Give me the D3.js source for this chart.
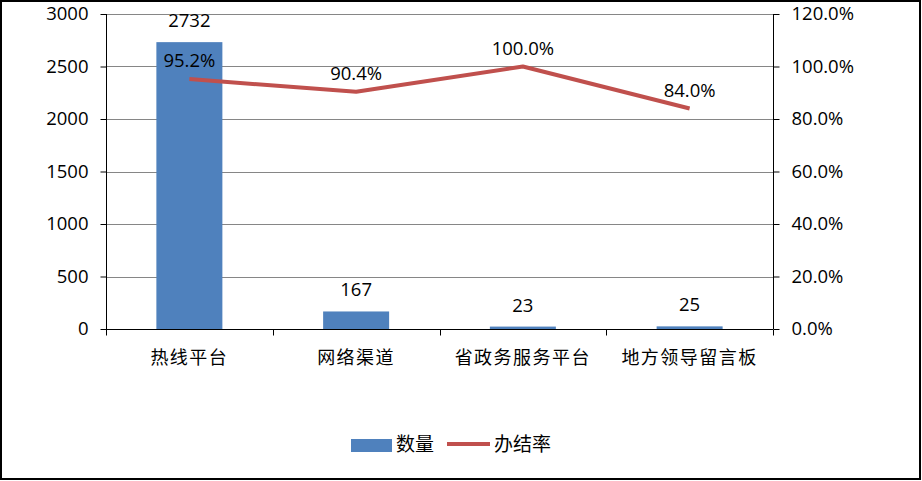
<!DOCTYPE html>
<html><head><meta charset="utf-8">
<script src="https://cdn.jsdelivr.net/npm/d3@7"></script>
<style>body{margin:0;background:#fff}svg text{font-family:"Open Sans","Liberation Sans",sans-serif;fill:#000}</style>
</head><body>
<svg id="c" width="922" height="481"></svg>
<script>
const categories = ["热线平台","网络渠道","省政务服务平台","地方领导留言板"];
const counts = [2732,167,23,25];
const rates = [0.952,0.904,1.0,0.84];
const leftTicks = [0,500,1000,1500,2000,2500,3000];
const rightTicks = [0,0.2,0.4,0.6,0.8,1.0,1.2];
const seriesNames = ["数量","办结率"];

const svg = d3.select("#c");
const L=106, R=773, T=14, B=329;
const x = d3.scaleBand().domain(categories).range([L,R]);
const yL = d3.scaleLinear().domain([0,3000]).range([B,T]);
const yR = d3.scaleLinear().domain([0,1.2]).range([B,T]);
const cjk = '"Noto Sans CJK SC",sans-serif';
const fs = 18.5;

svg.append("rect").attr("x",1).attr("y",1).attr("width",919).attr("height",478)
  .attr("fill","#fff").attr("stroke","#000").attr("stroke-width",2);

svg.append("g").selectAll("line").data(leftTicks.filter(d=>d>0)).join("line")
  .attr("x1",L).attr("x2",R).attr("y1",d=>Math.round(yL(d))+0.5).attr("y2",d=>Math.round(yL(d))+0.5)
  .attr("stroke","#868686").attr("stroke-width",1);

const bw = 66;
svg.append("g").selectAll("rect").data(counts).join("rect")
  .attr("x",(d,i)=>x(categories[i])+x.bandwidth()/2-bw/2)
  .attr("width",bw)
  .attr("y",d=>yL(d)).attr("height",d=>B-yL(d))
  .attr("fill","#4F81BD");

const gl = svg.append("g").attr("transform",`translate(${L+0.5},0)`)
  .call(d3.axisLeft(yL).tickValues(leftTicks).tickSize(6).tickPadding(12).tickFormat(d3.format("d")));
gl.selectAll("text").attr("font-size",fs).style("font-family",'"Open Sans",sans-serif');
gl.select(".domain").attr("d",`M-0,${T}V${B}`);
const gr = svg.append("g").attr("transform",`translate(${R+0.5},0)`)
  .call(d3.axisRight(yR).tickValues(rightTicks).tickSize(6).tickPadding(12).tickFormat(d3.format(".1%")));
gr.selectAll("text").attr("font-size",fs).style("font-family",'"Open Sans",sans-serif');
gr.select(".domain").attr("d",`M0,${T}V${B}`);
const gb = svg.append("g").attr("transform",`translate(0,${B+0.5})`);
gb.append("line").attr("x1",L).attr("x2",R).attr("stroke","#000");
const bounds = categories.map(c=>x(c)).concat([R]);
gb.selectAll("line.t").data(bounds).join("line").attr("class","t")
  .attr("x1",d=>Math.round(d)+0.5).attr("x2",d=>Math.round(d)+0.5).attr("y1",0).attr("y2",6).attr("stroke","#000");
gb.selectAll("text").data(categories).join("text")
  .attr("x",d=>x(d)+x.bandwidth()/2).attr("y",34).attr("text-anchor","middle")
  .attr("font-size",18).style("font-family",cjk).attr("letter-spacing",1.5).text(d=>d);
[gl,gr].forEach(g=>{g.selectAll("line").attr("stroke","#000");g.select(".domain").attr("stroke","#000");});

svg.append("g").selectAll("text").data(counts).join("text")
  .attr("x",(d,i)=>x(categories[i])+x.bandwidth()/2)
  .attr("y",d=>yL(d)-15).attr("text-anchor","middle").attr("font-size",fs).text(d=>d);

const line = d3.line().x((d,i)=>x(categories[i])+x.bandwidth()/2).y(d=>yR(d));
svg.append("path").datum(rates).attr("d",line).attr("fill","none")
  .attr("stroke","#C0504D").attr("stroke-width",4).attr("stroke-linejoin","round");
svg.append("g").selectAll("text").data(rates).join("text")
  .attr("x",(d,i)=>x(categories[i])+x.bandwidth()/2)
  .attr("y",d=>yR(d)-12).attr("text-anchor","middle").attr("font-size",fs).text(d=>d3.format(".1%")(d));

const lg = svg.append("g");
lg.append("rect").attr("x",351).attr("y",439).attr("width",41).attr("height",13).attr("fill","#4F81BD");
lg.append("text").attr("x",396).attr("y",451).attr("font-size",19).style("font-family",cjk).text(seriesNames[0]);
lg.append("line").attr("x1",447).attr("x2",490).attr("y1",444).attr("y2",444).attr("stroke","#C0504D").attr("stroke-width",4);
lg.append("text").attr("x",494).attr("y",451).attr("font-size",19).style("font-family",cjk).text(seriesNames[1]);
</script>
</body></html>
